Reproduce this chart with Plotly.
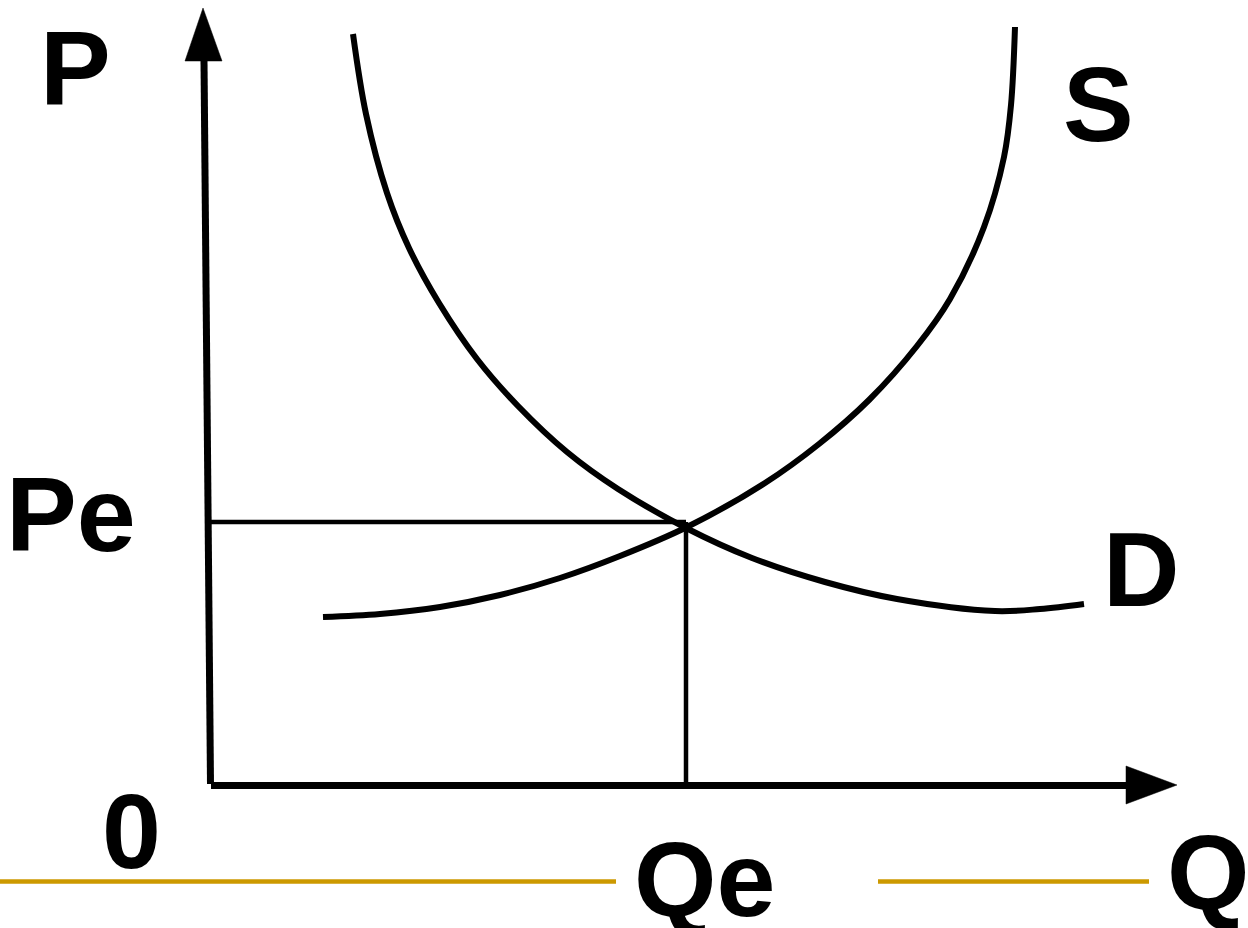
import plotly.graph_objects as go

# supply / demand diagram, units: Q and P measured from the origin corner
demand_q = [14.2, 15.5, 17.6, 19.8, 22.8, 26.6, 30.7, 35.6, 40.7, 47.5, 54.1, 61.4, 68.6, 78.4, 82.9, 87.3]
demand_p = [75.1, 67.1, 59.2, 53.7, 48.2, 42.6, 37.9, 33.3, 29.6, 25.7, 22.7, 20.3, 18.6, 17.4, 17.6, 18.1]

supply_q = [11.2, 16.9, 22.9, 28.9, 34.9, 40.9, 47.6, 55.4, 60.8, 65.8, 70.6, 73.9, 77.3, 79.3, 80.0, 80.4]
supply_p = [16.8, 17.1, 17.8, 19.0, 20.7, 22.9, 25.8, 30.2, 34.1, 38.5, 43.9, 48.6, 55.8, 62.8, 68.0, 75.8]

q_e = 47.5
p_e = 26.3

# axis ends
q_axis_end = 91.5
p_axis_end = 72.4
y_axis_lean = -0.7   # the drawn vertical axis leans slightly left

labels = ["P", "S", "Pe", "D", "0", "Qe", "Q"]
label_q = [-13.6, 88.75, -14.0, 93.0, -8.0, 49.35, 99.7]
label_p = [71.75, 68.1, 27.1, 21.6, -4.55, -9.4, -8.7]

gold = "#CC9900"

fig = go.Figure()

fig.add_trace(go.Scatter(x=demand_q, y=demand_p, mode="lines",
                         line=dict(color="black", width=6, shape="spline"),
                         hoverinfo="skip"))
fig.add_trace(go.Scatter(x=supply_q, y=supply_p, mode="lines",
                         line=dict(color="black", width=6, shape="spline"),
                         hoverinfo="skip"))

# equilibrium guides
fig.add_trace(go.Scatter(x=[0, q_e], y=[p_e, p_e], mode="lines",
                         line=dict(color="black", width=4.5), hoverinfo="skip"))
fig.add_trace(go.Scatter(x=[q_e, q_e], y=[p_e, 0], mode="lines",
                         line=dict(color="black", width=4.5), hoverinfo="skip"))

# axes
fig.add_trace(go.Scatter(x=[-0.05, y_axis_lean], y=[0.1, p_axis_end], mode="lines",
                         line=dict(color="black", width=7), hoverinfo="skip"))
fig.add_trace(go.Scatter(x=[0, q_axis_end], y=[-0.05, -0.05], mode="lines",
                         line=dict(color="black", width=7), hoverinfo="skip"))

# arrow heads
fig.add_trace(go.Scatter(x=[-2.6, 1.1, -0.8, -2.6], y=[p_axis_end, p_axis_end, 77.7, p_axis_end],
                         mode="lines", fill="toself", fillcolor="black",
                         line=dict(color="black", width=0.5), hoverinfo="skip"))
fig.add_trace(go.Scatter(x=[q_axis_end, q_axis_end, 96.6, q_axis_end], y=[1.9, -1.9, 0, 1.9],
                         mode="lines", fill="toself", fillcolor="black",
                         line=dict(color="black", width=0.5), hoverinfo="skip"))

# template rule lines at the bottom
fig.add_shape(type="line", x0=-21.1, x1=40.5, y0=-9.65, y1=-9.65,
              line=dict(color=gold, width=4.5))
fig.add_shape(type="line", x0=66.7, x1=93.8, y0=-9.65, y1=-9.65,
              line=dict(color=gold, width=4.5))

for txt, qx, py in zip(labels, label_q, label_p):
    fig.add_annotation(x=qx, y=py, text="<b>" + txt + "</b>", showarrow=False,
                       xanchor="center", yanchor="middle",
                       font=dict(family="Liberation Sans, Arial", size=106, color="black"))

fig.update_layout(
    width=1248, height=928,
    margin=dict(l=0, r=0, t=0, b=0),
    paper_bgcolor="white", plot_bgcolor="white",
    showlegend=False,
    xaxis=dict(range=[-21.1, 103.7], visible=False, fixedrange=True),
    yaxis=dict(range=[-14.3, 78.5], visible=False, fixedrange=True),
)

fig.write_html("out.html", config={"displayModeBar": False},
               post_script="document.body.style.margin='0';")
